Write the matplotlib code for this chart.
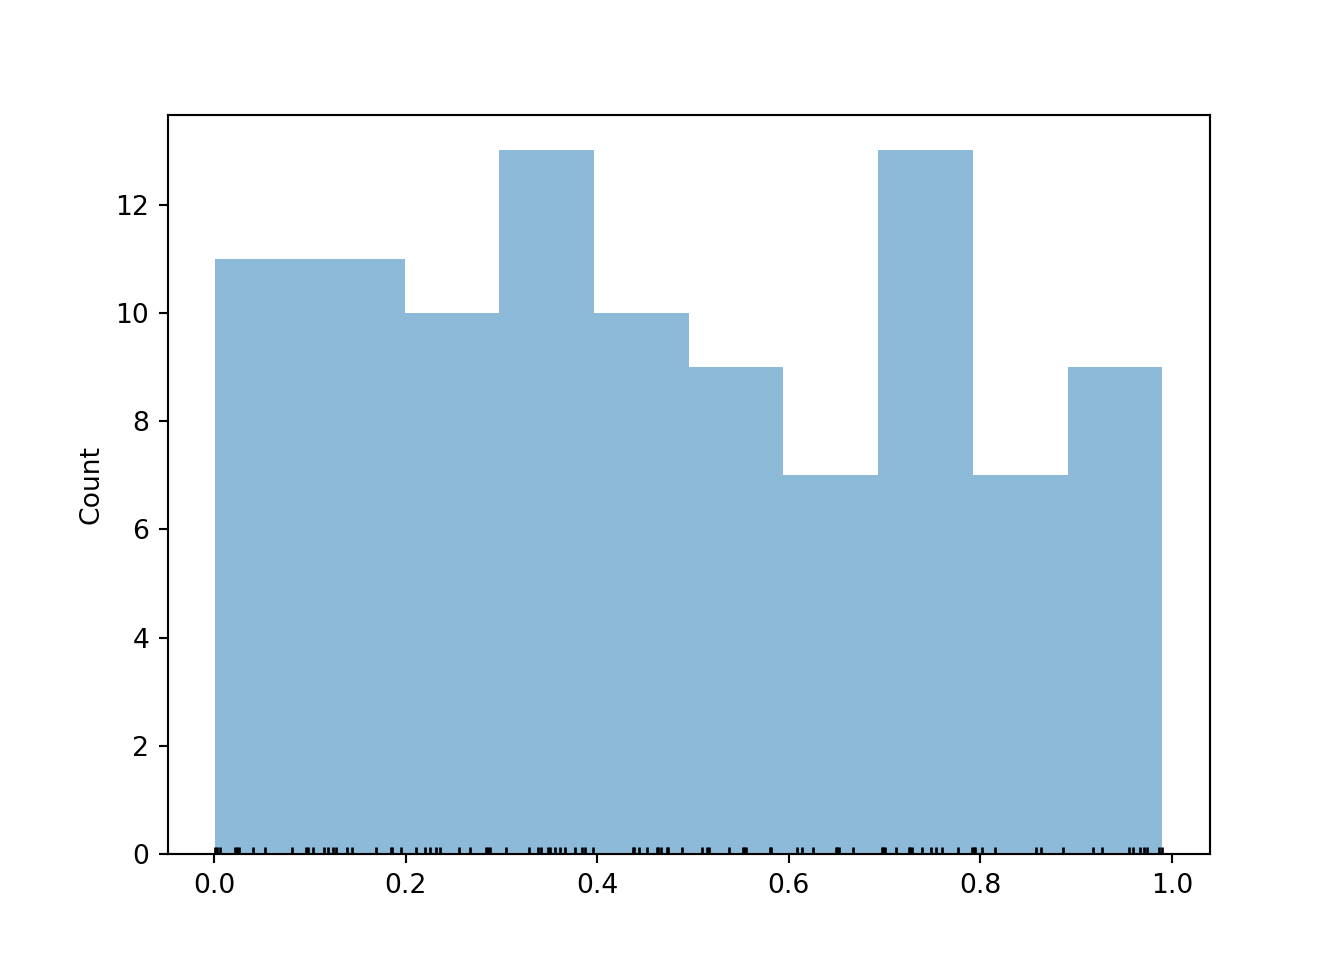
import numpy as np
import matplotlib.pyplot as plt

# sample values (100 points)
values = [
    0.001, 0.003, 0.006, 0.022, 0.024, 0.026, 0.040, 0.053, 0.081, 0.096, 0.098,
    0.103, 0.114, 0.119, 0.124, 0.127, 0.139, 0.144, 0.169, 0.184, 0.186, 0.195,
    0.211, 0.220, 0.225, 0.231, 0.236, 0.256, 0.267, 0.284, 0.286, 0.288,
    0.305, 0.329, 0.338, 0.341, 0.348, 0.351, 0.356, 0.361, 0.366, 0.377, 0.384,
    0.387, 0.395,
    0.437, 0.438, 0.443, 0.452, 0.462, 0.463, 0.466, 0.473, 0.474, 0.488,
    0.509, 0.514, 0.517, 0.537, 0.552, 0.553, 0.555, 0.580, 0.581,
    0.608, 0.614, 0.625, 0.649, 0.650, 0.652, 0.667,
    0.697, 0.698, 0.700, 0.712, 0.725, 0.727, 0.729, 0.739, 0.748, 0.754, 0.760,
    0.777, 0.791,
    0.793, 0.794, 0.802, 0.815, 0.858, 0.863, 0.886,
    0.918, 0.927, 0.955, 0.959, 0.967, 0.971, 0.974, 0.987, 0.990,
]
values = np.array(values)

fig = plt.figure(figsize=(7, 5), dpi=192)
ax = fig.add_subplot(111)

# histogram, default colour at half alpha
counts, edges, patches = ax.hist(values, bins=10, alpha=0.5)

# rug marks along the bottom
ax.vlines(values, 0, 0.01, transform=ax.get_xaxis_transform(),
          color='k', linewidth=1)

ax.set_ylim(0, counts.max() * 1.05)
ax.set_ylabel("Count")

fig.savefig("out.png", dpi=192)
